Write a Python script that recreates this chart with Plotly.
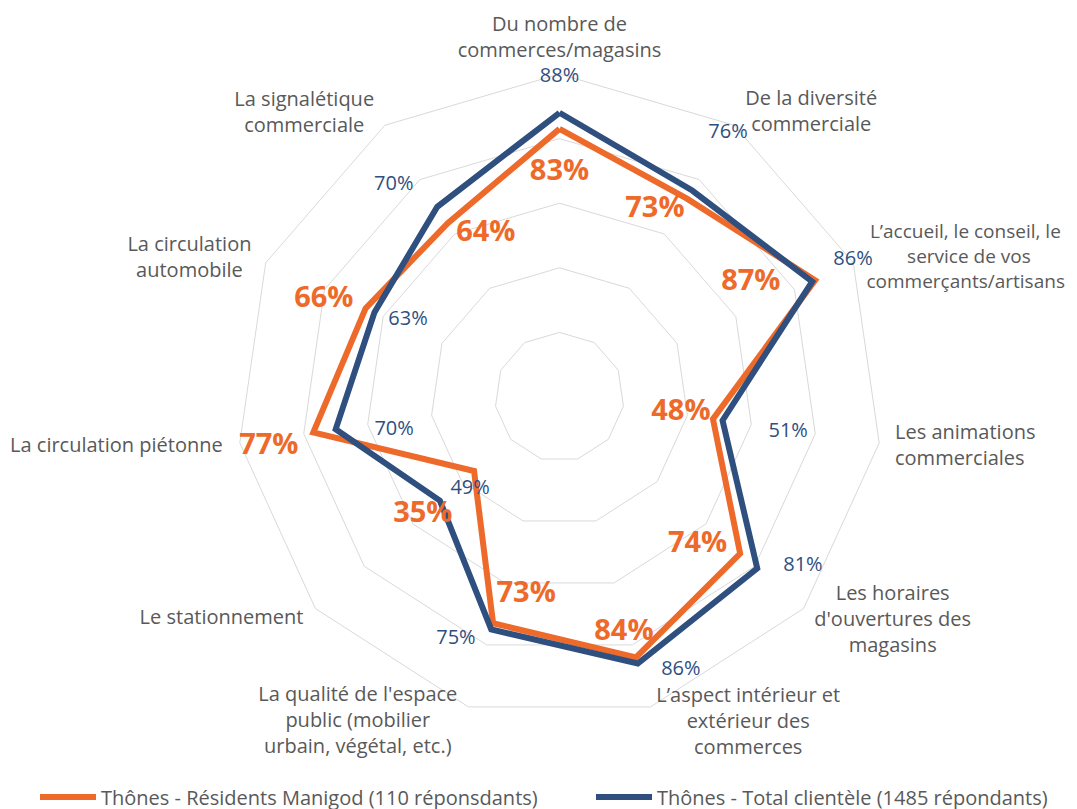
import plotly.graph_objects as go

# ---------------- data ----------------
categories = [
    "Du nombre de commerces/magasins",
    "De la diversité commerciale",
    "L’accueil, le conseil, le service de vos commerçants/artisans",
    "Les animations commerciales",
    "Les horaires d'ouvertures des magasins",
    "L’aspect intérieur et extérieur des commerces",
    "La qualité de l'espace public (mobilier urbain, végétal, etc.)",
    "Le stationnement",
    "La circulation piétonne",
    "La circulation automobile",
    "La signalétique commerciale",
]
category_labels = [
    "Du nombre de<br>commerces/magasins",
    "De la diversité<br>commerciale",
    "L’accueil, le conseil, le<br>service de vos<br>commerçants/artisans",
    "Les animations<br>commerciales",
    "Les horaires<br>d'ouvertures des<br>magasins",
    "L’aspect intérieur et<br>extérieur des<br>commerces",
    "La qualité de l'espace<br>public (mobilier<br>urbain, végétal, etc.)",
    "Le stationnement",
    "La circulation piétonne",
    "La circulation<br>automobile",
    "La signalétique<br>commerciale",
]
series_names = [
    "Thônes - Résidents Manigod (110 réponsdants)",
    "Thônes - Total clientèle (1485 répondants)",
]
residents = [83, 73, 87, 48, 74, 84, 73, 35, 77, 66, 64]
total = [88, 76, 86, 51, 81, 86, 75, 49, 70, 63, 70]

# ---------------- label placement (style, in % of radius / degrees) ----------------
res_label_dr = [-13.7, -8.0, -18.0, -10.1, -11.3, -8.3, -10.8, 20.9, 14.3, 12.9, -8.6]
res_label_dth = [0, -5.7, -6.3, -0.7, 6.1, 1.1, -6.8, 0.1, -1.5, -2.2, 8.4]
tot_label_dr = [11.2, 21.0, 14.3, 20.6, 10.8, 6.5, 6.5, -9.3, -17.8, -10.4, 13.3]
tot_label_dth = [0, -0.2, -0.5, 0.4, -6.1, -7.6, 6.8, -4.9, -3.1, 2.4, -5.3]
# one entry per category label; a list entry = one placement per text line
cat_label_r = [110.8, 117.4, [108.7, 115.9, 101.4], 105.0, 118.4, 116.5, 118.5,
               105.0, 105.4, 120.0, 118.1]
cat_label_theta = [0, 41.6, [62.15, 68.2, 69.6], 98.4, 119.4, 149.9, 211.8,
                   229.05, 261.6, 287.3, 318.0]
cat_label_pos = ["middle center", "middle center", "middle right", "middle right",
                 "bottom center", "middle center", "middle center", "middle left",
                 "middle left", "top center", "middle center"]
cat_label_size = [20, 20, 19, 20, 20, 20, 20, 20, 20, 20, 20]

ORANGE = "#EE6A2A"
BLUE = "#2F4F7F"
GREY = "#595959"
GRID = "#D9D9D9"
FONT = "Open Sans"

n = len(categories)
axis_theta = [i * 360.0 / n for i in range(n)]

fig = go.Figure()

# lines (closed polygons)
for vals, color, name, lw in [(residents, ORANGE, series_names[0], 485),
                              (total, BLUE, series_names[1], 415)]:
    fig.add_trace(go.Scatterpolar(
        r=vals + vals[:1],
        theta=categories + categories[:1],
        mode="lines",
        line=dict(color=color, width=6),
        name=name,
        legendwidth=lw,
        subplot="polar",
        hoverinfo="skip",
    ))

# data labels (overlay polar with same centre and same scale)
fig.add_trace(go.Scatterpolar(
    r=[v + d for v, d in zip(residents, res_label_dr)],
    theta=[a + d for a, d in zip(axis_theta, res_label_dth)],
    mode="text",
    text=[f"{v}%" for v in residents],
    textposition="middle center",
    textfont=dict(family=FONT, size=29, color=ORANGE, weight="bold"),
    subplot="polar2",
    showlegend=False,
    cliponaxis=False,
    hoverinfo="skip",
))
fig.add_trace(go.Scatterpolar(
    r=[v + d for v, d in zip(total, tot_label_dr)],
    theta=[a + d for a, d in zip(axis_theta, tot_label_dth)],
    mode="text",
    text=[f"{v}%" for v in total],
    textposition="middle center",
    textfont=dict(family=FONT, size=20, color=BLUE),
    subplot="polar2",
    showlegend=False,
    cliponaxis=False,
    hoverinfo="skip",
))

# category labels
lab_r, lab_t, lab_txt, lab_pos, lab_size = [], [], [], [], []
for txt, r, t, p, s in zip(category_labels, cat_label_r, cat_label_theta,
                           cat_label_pos, cat_label_size):
    if isinstance(r, list):
        for line, rr, tt in zip(txt.split("<br>"), r, t):
            lab_r.append(rr); lab_t.append(tt); lab_txt.append(line)
            lab_pos.append(p); lab_size.append(s)
    else:
        lab_r.append(r); lab_t.append(t); lab_txt.append(txt)
        lab_pos.append(p); lab_size.append(s)

fig.add_trace(go.Scatterpolar(
    r=lab_r,
    theta=lab_t,
    mode="text",
    text=lab_txt,
    textposition=lab_pos,
    textfont=dict(family=FONT, size=lab_size, color=GREY),
    subplot="polar2",
    showlegend=False,
    cliponaxis=False,
    hoverinfo="skip",
))

W, H = 1077, 809
PAGE = 8                      # default page margin of the html body
cx, cy = 559.5 - PAGE, 397 - PAGE
R = 323                       # radius of the 100 % ring (px)
R2 = cy                       # overlay polar: as large as possible, same centre
dom_x = [(cx - R) / W, (cx + R) / W]
dom_y = [(H - cy - R) / H, (H - cy + R) / H]
dom2_x = [(cx - R2) / W, (cx + R2) / W]
dom2_y = [(H - cy - R2) / H, (H - cy + R2) / H]
r2_max = 100.0 * R2 / R

fig.update_layout(
    width=W, height=H,
    margin=dict(l=0, r=0, t=0, b=0),
    paper_bgcolor="white",
    plot_bgcolor="white",
    font=dict(family=FONT, size=20, color=GREY),
    polar=dict(
        domain=dict(x=dom_x, y=dom_y),
        bgcolor="rgba(0,0,0,0)",
        gridshape="linear",
        angularaxis=dict(
            type="category",
            categoryorder="array",
            categoryarray=categories,
            rotation=90,
            direction="clockwise",
            showgrid=False,
            showline=True,
            linecolor=GRID,
            linewidth=1,
            showticklabels=False,
            ticks="",
        ),
        radialaxis=dict(
            range=[0, 100],
            dtick=20,
            showgrid=True,
            gridcolor=GRID,
            gridwidth=1,
            showline=False,
            showticklabels=False,
            ticks="",
        ),
    ),
    polar2=dict(
        domain=dict(x=dom2_x, y=dom2_y),
        bgcolor="rgba(0,0,0,0)",
        angularaxis=dict(
            type="linear",
            rotation=90,
            direction="clockwise",
            thetaunit="degrees",
            showgrid=False,
            showline=False,
            showticklabels=False,
            ticks="",
        ),
        radialaxis=dict(
            range=[0, r2_max],
            visible=False,
        ),
    ),
    legend=dict(
        orientation="h",
        x=(35 - PAGE) / W,
        xanchor="left",
        y=(H - (797 - PAGE)) / H,
        yanchor="middle",
        itemwidth=56,
        font=dict(family=FONT, size=20, color=GREY),
        bgcolor="rgba(0,0,0,0)",
    ),
    showlegend=True,
)

fig.write_html("out.html")
